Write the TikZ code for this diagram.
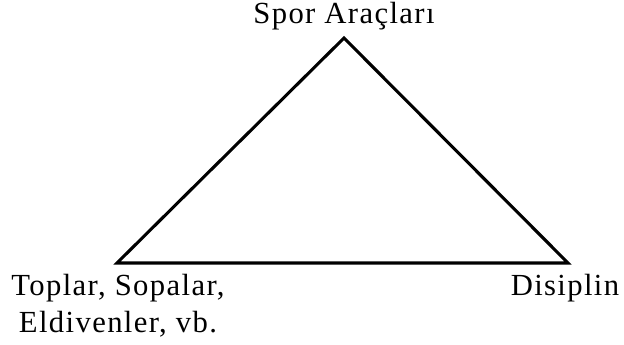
\documentclass[tikz,border=0pt]{standalone}
\usepackage{fontspec}
\setmainfont{Liberation Serif}[LetterSpace=4.5]
\usepackage{tikz}

\begin{document}
\begin{tikzpicture}[x=0.75pt,y=-0.75pt,
    font=\fontsize{23}{27.5}\selectfont,
    edge/.style={line width=2.3pt,line join=miter},
    vlabel/.style={anchor=base,align=center,inner sep=0pt}]
  \useasboundingbox (0,0) rectangle (624,345);
  % corners
  \coordinate (apex) at (344,38);
  \coordinate (balls) at (117,263);
  \coordinate (disc) at (568,263);
  \draw[edge] (apex) -- (balls) -- (disc) -- cycle;

  % labels
  \node[vlabel] (apexlab) at (344,24) {Spor Araçları};
  \node[vlabel] (ballslab) at (118,332) {Toplar, Sopalar,\\Eldivenler, vb.};
  \node[vlabel] (disclab) at (565,295) {Disiplin};
\end{tikzpicture}
\end{document}
